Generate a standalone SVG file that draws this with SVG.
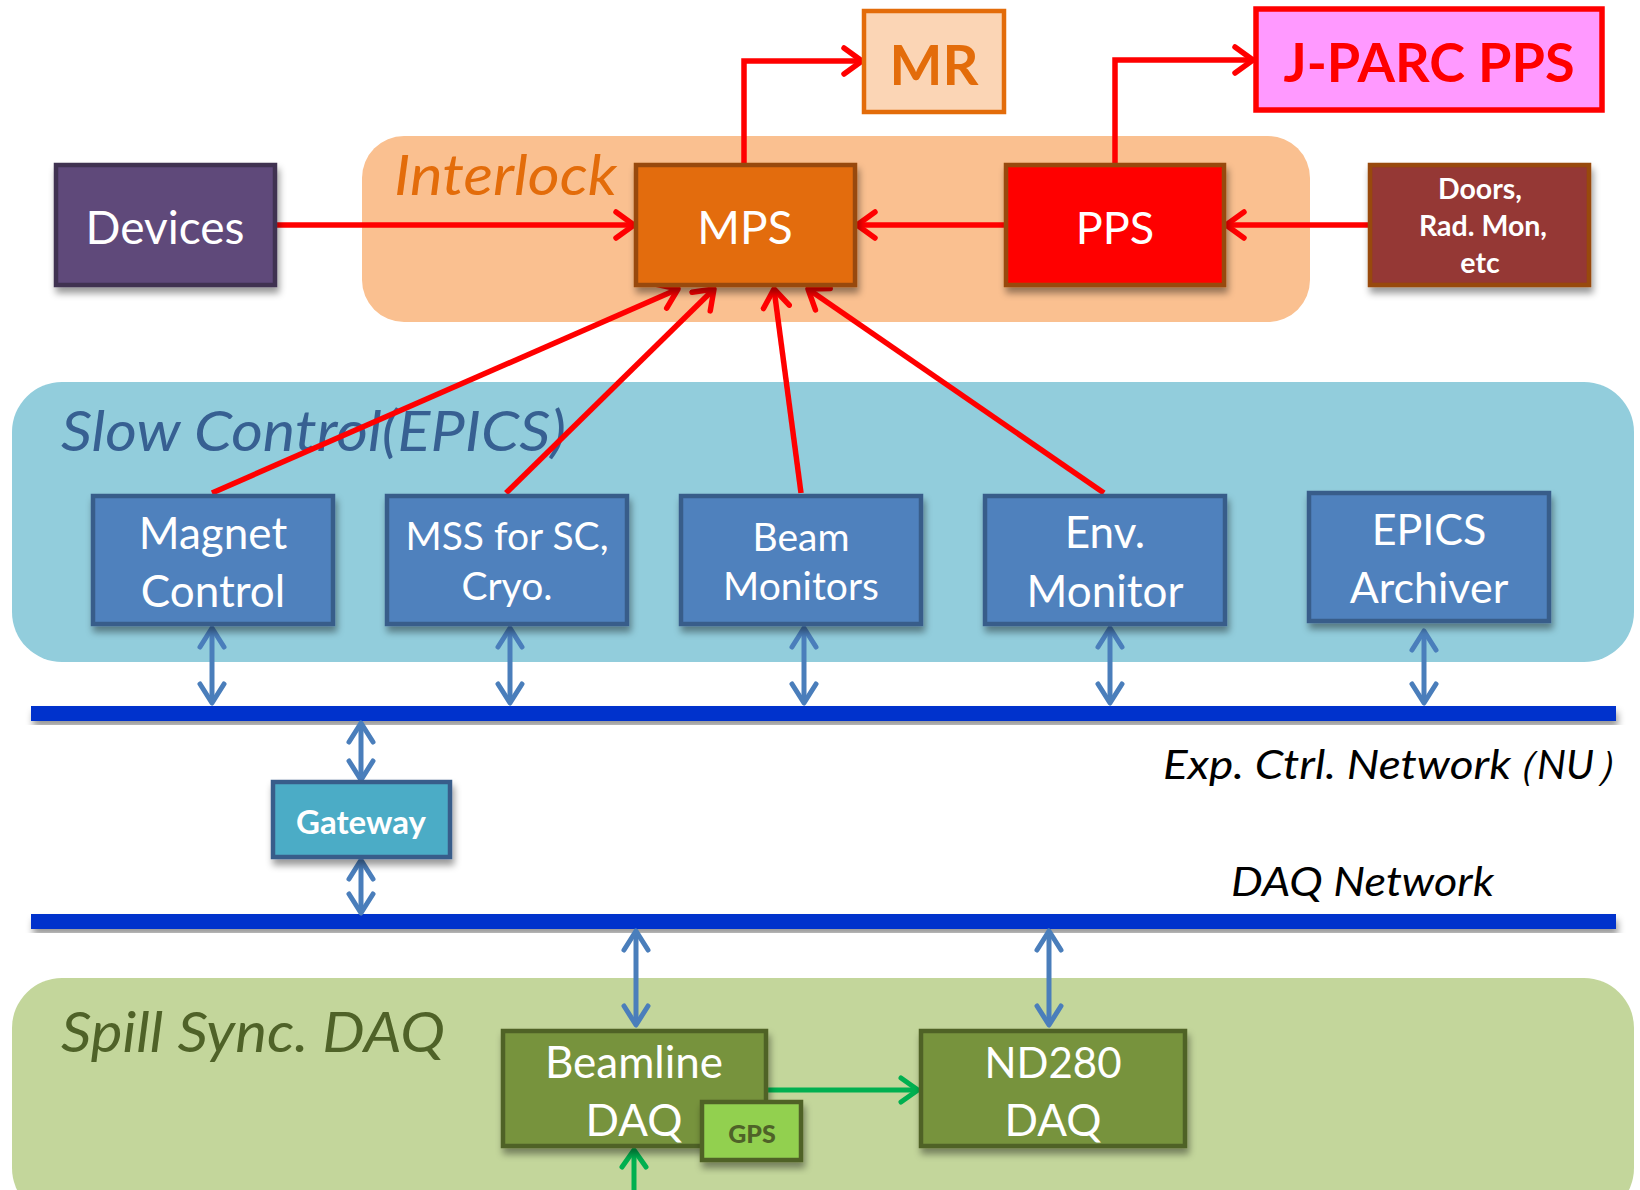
<svg xmlns="http://www.w3.org/2000/svg" width="1640" height="1190" viewBox="0 0 1640 1190">
  <defs>
    <filter id="shadow" x="-10%" y="-10%" width="125%" height="135%">
      <feDropShadow dx="2" dy="6" stdDeviation="3.5" flood-color="#000" flood-opacity="0.4"/>
    </filter>
    <marker id="redHead" markerUnits="userSpaceOnUse" viewBox="-24 -16 28 32" refX="0" refY="0" markerWidth="28" markerHeight="32" orient="auto">
      <path d="M-18,-13 L0,0 L-18,13" fill="none" stroke="#FF0000" stroke-width="5.5" stroke-linecap="round" stroke-linejoin="round"/>
    </marker>
    <marker id="blueHead" markerUnits="userSpaceOnUse" viewBox="-24 -16 28 32" refX="0" refY="0" markerWidth="28" markerHeight="32" orient="auto-start-reverse">
      <path d="M-19,-12 L0,0 L-19,12" fill="none" stroke="#4A7EBB" stroke-width="5" stroke-linecap="round" stroke-linejoin="round"/>
    </marker>
    <marker id="greenHead" markerUnits="userSpaceOnUse" viewBox="-24 -16 28 32" refX="0" refY="0" markerWidth="28" markerHeight="32" orient="auto">
      <path d="M-17,-12 L0,0 L-17,12" fill="none" stroke="#00B050" stroke-width="5" stroke-linecap="round" stroke-linejoin="round"/>
    </marker>
  </defs>
  <style>
    text { font-family: Lato, "Open Sans", "Liberation Sans", sans-serif; }
    .box { stroke-width: 4.5; filter: url(#shadow); }
    .white { fill: #FFFFFF; text-anchor: middle; }
    .title { font-style: italic; }
    .red { fill: none; stroke: #FF0000; stroke-width: 5.5; marker-end: url(#redHead); }
    .blue { fill: none; stroke: #4A7EBB; stroke-width: 5; marker-start: url(#blueHead); marker-end: url(#blueHead); }
    .green { fill: none; stroke: #00B050; stroke-width: 5; marker-end: url(#greenHead); }
    .bar { fill: #0033CC; filter: url(#shadow); }
  </style>

  <rect width="1640" height="1190" fill="#FFFFFF"/>

  <!-- Background panels -->
  <g id="panel-interlock">
    <rect x="362" y="136" width="948" height="186" rx="42" fill="#FAC090"/>
    <text x="394" y="195" class="title" font-size="57" fill="#E36C0A" textLength="223" lengthAdjust="spacingAndGlyphs">Interlock</text>
  </g>
  <g id="panel-slow-control">
    <rect x="12" y="382" width="1622" height="280" rx="50" fill="#92CDDC"/>
    <text x="61" y="451" class="title" font-size="57" fill="#376092" textLength="505" lengthAdjust="spacingAndGlyphs">Slow Control(EPICS)</text>
  </g>
  <g id="panel-spill-daq">
    <rect x="12" y="978" width="1622" height="240" rx="50" fill="#C3D69B"/>
    <text x="61" y="1052" class="title" font-size="57" fill="#4F6228" textLength="384" lengthAdjust="spacingAndGlyphs">Spill Sync. DAQ</text>
  </g>

  <!-- Network buses -->
  <g id="exp-ctrl-network">
    <rect class="bar" x="31" y="706" width="1585" height="15"/>
    <text y="779" class="title" font-size="41" fill="#000" font-family="Lato, 'Noto Sans CJK JP', sans-serif"><tspan x="1163" textLength="348" lengthAdjust="spacingAndGlyphs">Exp. Ctrl. Network</tspan><tspan x="1496">（NU）</tspan></text>
  </g>
  <g id="daq-network">
    <rect class="bar" x="31" y="914" width="1585" height="15"/>
    <text x="1231" y="896" class="title" font-size="41" fill="#000" textLength="263" lengthAdjust="spacingAndGlyphs">DAQ Network</text>
  </g>

  <!-- Connectors -->
  <g id="connectors">
    <!-- interlock signals -->
    <line class="red" x1="275" y1="225" x2="634" y2="225"/>
    <line class="red" x1="1005" y1="225" x2="857" y2="225"/>
    <line class="red" x1="1369" y1="225" x2="1226" y2="225"/>
    <polyline class="red" points="744,164 744,61 862,61"/>
    <polyline class="red" points="1115,164 1115,60 1253,60"/>
    <line class="red" x1="212" y1="493" x2="678" y2="289"/>
    <line class="red" x1="506" y1="493" x2="714" y2="289"/>
    <line class="red" x1="801" y1="493" x2="774" y2="289"/>
    <line class="red" x1="1104" y1="493" x2="808" y2="289"/>
    <!-- slow control to network -->
    <line class="blue" x1="212" y1="628" x2="212" y2="703"/>
    <line class="blue" x1="510" y1="628" x2="510" y2="703"/>
    <line class="blue" x1="804" y1="628" x2="804" y2="703"/>
    <line class="blue" x1="1110" y1="628" x2="1110" y2="703"/>
    <line class="blue" x1="1424" y1="631" x2="1424" y2="703"/>
    <!-- gateway -->
    <line class="blue" x1="361" y1="723" x2="361" y2="780"/>
    <line class="blue" x1="361" y1="860" x2="361" y2="913"/>
    <!-- DAQ network to DAQ nodes -->
    <line class="blue" x1="636" y1="931" x2="636" y2="1025"/>
    <line class="blue" x1="1049" y1="931" x2="1049" y2="1025"/>
    <!-- spill DAQ -->
    <line class="green" x1="766" y1="1090" x2="918" y2="1090"/>
    <line class="green" x1="634" y1="1192" x2="634" y2="1150"/>
  </g>

  <!-- Nodes -->
  <g id="node-mr">
    <rect x="864" y="11" width="140" height="101" fill="#FBD5B5" stroke="#E36C0A" stroke-width="4.5"/>
    <text x="934" y="85" font-size="56" font-weight="bold" fill="#E36C0A" text-anchor="middle">MR</text>
  </g>
  <g id="node-jparc-pps">
    <rect x="1256" y="9" width="346" height="101" fill="#FF99FF" stroke="#FF0000" stroke-width="5.5"/>
    <text x="1429" y="82" font-size="54" font-weight="bold" fill="#FF0000" text-anchor="middle">J-PARC PPS</text>
  </g>
  <g id="node-devices">
    <rect class="box" x="56" y="165" width="219" height="120" fill="#5F497A" stroke="#3F3151"/>
    <text x="165" y="244" font-size="46" class="white">Devices</text>
  </g>
  <g id="node-mps">
    <rect class="box" x="636" y="165" width="219" height="120" fill="#E36C0A" stroke="#984807"/>
    <text x="745" y="244" font-size="46" class="white">MPS</text>
  </g>
  <g id="node-pps">
    <rect class="box" x="1006" y="165" width="218" height="120" fill="#FF0000" stroke="#984807"/>
    <text x="1115" y="244" font-size="45" class="white">PPS</text>
  </g>
  <g id="node-doors">
    <rect class="box" x="1370" y="165" width="219" height="120" fill="#953735" stroke="#984807"/>
    <text x="1480" y="199" font-size="28.5" font-weight="bold" class="white">Doors,</text>
    <text x="1483" y="236" font-size="28.5" font-weight="bold" class="white">Rad. Mon,</text>
    <text x="1480" y="273" font-size="28.5" font-weight="bold" class="white">etc</text>
  </g>

  <g id="node-magnet">
    <rect class="box" x="93" y="496" width="240" height="128" fill="#4F81BD" stroke="#385D8A"/>
    <text x="213" y="549" font-size="44" class="white">Magnet</text>
    <text x="213" y="607" font-size="44" class="white">Control</text>
  </g>
  <g id="node-mss">
    <rect class="box" x="387" y="496" width="240" height="128" fill="#4F81BD" stroke="#385D8A"/>
    <text x="507" y="550" font-size="39" class="white">MSS for SC,</text>
    <text x="507" y="600" font-size="39" class="white">Cryo.</text>
  </g>
  <g id="node-beam-monitors">
    <rect class="box" x="681" y="496" width="240" height="128" fill="#4F81BD" stroke="#385D8A"/>
    <text x="801" y="551" font-size="39" class="white">Beam</text>
    <text x="801" y="600" font-size="39" class="white">Monitors</text>
  </g>
  <g id="node-env-monitor">
    <rect class="box" x="985" y="496" width="240" height="128" fill="#4F81BD" stroke="#385D8A"/>
    <text x="1105" y="548" font-size="44" class="white">Env.</text>
    <text x="1105" y="607" font-size="44" class="white">Monitor</text>
  </g>
  <g id="node-epics-archiver">
    <rect class="box" x="1309" y="493" width="240" height="128" fill="#4F81BD" stroke="#385D8A"/>
    <text x="1429" y="545" font-size="43" class="white">EPICS</text>
    <text x="1429" y="603" font-size="43" class="white">Archiver</text>
  </g>

  <g id="node-gateway">
    <rect class="box" x="273" y="782" width="177" height="75" fill="#4BACC6" stroke="#385D8A"/>
    <text x="361" y="834" font-size="33" font-weight="bold" class="white">Gateway</text>
  </g>

  <g id="node-beamline-daq">
    <rect class="box" x="503" y="1031" width="263" height="115" fill="#77933C" stroke="#4F6228"/>
    <text x="634" y="1078" font-size="44" class="white">Beamline</text>
    <text x="634" y="1136" font-size="44" class="white">DAQ</text>
  </g>
  <g id="node-gps">
    <rect class="box" x="702" y="1102" width="99" height="58" fill="#92D050" stroke="#4F6228"/>
    <text x="752" y="1143" font-size="25" font-weight="900" fill="#4F6228" text-anchor="middle">GPS</text>
  </g>
  <g id="node-nd280-daq">
    <rect class="box" x="921" y="1031" width="264" height="115" fill="#77933C" stroke="#4F6228"/>
    <text x="1053" y="1078" font-size="42" class="white">ND280</text>
    <text x="1053" y="1136" font-size="44" class="white">DAQ</text>
  </g>
</svg>
